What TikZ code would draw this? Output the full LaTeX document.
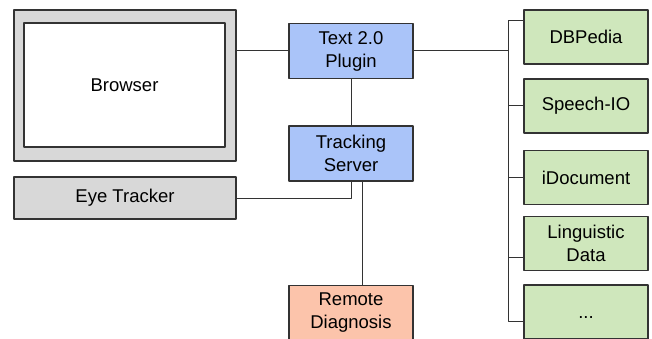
\documentclass[tikz,border=0pt]{standalone}
\usepackage{fontspec}
\setmainfont{Liberation Sans}
\definecolor{framegray}{RGB}{216,216,216}
\definecolor{plugblue}{RGB}{170,196,249}
\definecolor{srcgreen}{RGB}{207,231,188}
\definecolor{diagred}{RGB}{252,196,171}
\begin{document}
\begin{tikzpicture}[x=1pt,y=-1pt,line join=round,font=\fontsize{18.5}{23}\selectfont,
	box/.style={draw=black!80,line width=1.2pt,align=center,inner sep=0pt,minimum width=124pt,minimum height=55pt},
	wire/.style={draw=black!80,line width=1pt}]
		\clip (0,0) rectangle (652,339);
		\fill[white] (0,0) rectangle (652,339);
		% screen with the browser window inside
		\node[box,fill=framegray,minimum width=222pt,minimum height=151pt] (browser) at (125,85.5) {};
		\node[box,fill=white,minimum width=201pt,minimum height=124pt] (window) at (124.5,85) {Browser};
		\node[box,fill=framegray,minimum width=222pt,minimum height=42pt] (eye) at (125,198) {Eye Tracker};
		% middle column
		\node[box,fill=plugblue] (plugin) at (351,51) {Text 2.0\\Plugin};
		\node[box,fill=plugblue] (server) at (351,153.5) {Tracking\\Server};
		\node[box,fill=diagred] (remote) at (351,313) {Remote\\Diagnosis};
		% data sources on the right
		\foreach \n/\y/\t in {g1/37/DBPedia,g2/106/Speech-IO,g3/177.5/iDocument,g4/243.5/{Linguistic\\Data}}
		\node[box,fill=srcgreen,minimum height=54pt] (\n) at (586,\y) {\t};
		\node[box,fill=srcgreen,minimum height=54pt] (g5) at (586,312) {\vphantom{D}.{}.{}.};
		\coordinate (bus) at (509,51);
		\draw[wire] (plugin.west) -- (plugin.west -| browser.east);
		\draw[wire] (plugin) -- (server);
		\draw[wire] (eye.east) -| (server.south);
		\draw[wire] ([xshift=11pt]server.south) -- ([xshift=11pt]remote.north);
		\draw[wire] (plugin.east) -- (bus);
		\draw[wire] ([yshift=16pt]g1.west) -- ++(-15,0) |- ([yshift=-9pt]g5.west);
		\draw[wire] (g2.west) -- ++(-15,0);
		\draw[wire] (g3.west) -- ++(-15,0);
		\draw[wire] ([yshift=-13.5pt]g4.west) -- ++(-15,0);
\end{tikzpicture}
\end{document}
